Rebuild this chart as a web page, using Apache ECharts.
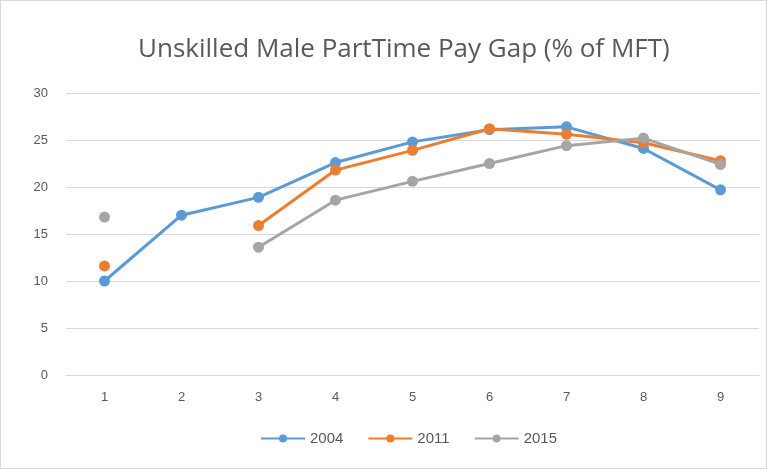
<!DOCTYPE html>
<html>
<head>
<meta charset="utf-8">
<script src="https://cdn.jsdelivr.net/npm/echarts@6/dist/echarts.min.js"></script>
<style>
  html, body { margin: 0; padding: 0; background: #fff; }
  #chart { width: 767px; height: 469px; box-sizing: border-box; border: 1px solid #d9d9d9; }
</style>
</head>
<body>
<div id="chart"></div>
<script>
// categories and values
var categories = ['1', '2', '3', '4', '5', '6', '7', '8', '9'];
var y2004 = [10.0, 17.0, 18.9, 22.6, 24.8, 26.1, 26.4, 24.1, 19.7];
var y2011 = [11.6, null, 15.9, 21.8, 23.9, 26.2, 25.6, 24.7, 22.8];
var y2015 = [16.8, null, 13.6, 18.6, 20.6, 22.5, 24.4, 25.2, 22.4];

var myChart = echarts.init(document.getElementById('chart'));

function mkSeries(name, data, color) {
    return {
        name: name,
        type: 'line',
        data: data,
        connectNulls: false,
        symbol: 'circle',
        symbolSize: 11,
        showAllSymbol: true,
        lineStyle: { color: color, width: 3 },
        itemStyle: { color: color }
    };
}

var option = {
    textStyle: { fontFamily: 'Liberation Sans' },
    title: {
        text: 'Unskilled Male PartTime Pay Gap (% of MFT)',
        left: 132,
        top: 31,
        textStyle: { fontFamily: 'Open Sans', fontSize: 26, fontWeight: 'normal', color: '#595959' }
    },
    legend: {
        left: 254,
        bottom: 17,
        itemWidth: 44,
        itemHeight: 10,
        itemGap: 24,
        textStyle: { color: '#595959', fontSize: 15 },
        data: ['2004', '2011', '2015']
    },
    grid: { left: 65, right: 7, top: 92, bottom: 93 },
    xAxis: {
        type: 'category',
        data: categories,
        axisLine: { lineStyle: { color: '#d9d9d9' } },
        axisTick: { show: false },
        axisLabel: { color: '#595959', fontSize: 13, margin: 16 }
    },
    yAxis: {
        type: 'value',
        min: 0,
        max: 30,
        interval: 5,
        axisLine: { show: false },
        axisTick: { show: false },
        splitLine: { lineStyle: { color: '#d9d9d9' } },
        axisLabel: { color: '#595959', fontSize: 13, margin: 18 }
    },
    series: [
        mkSeries('2004', y2004, '#5b9bd5'),
        mkSeries('2011', y2011, '#ed7d31'),
        mkSeries('2015', y2015, '#a5a5a5')
    ]
};

myChart.setOption(option);
</script>
</body>
</html>
